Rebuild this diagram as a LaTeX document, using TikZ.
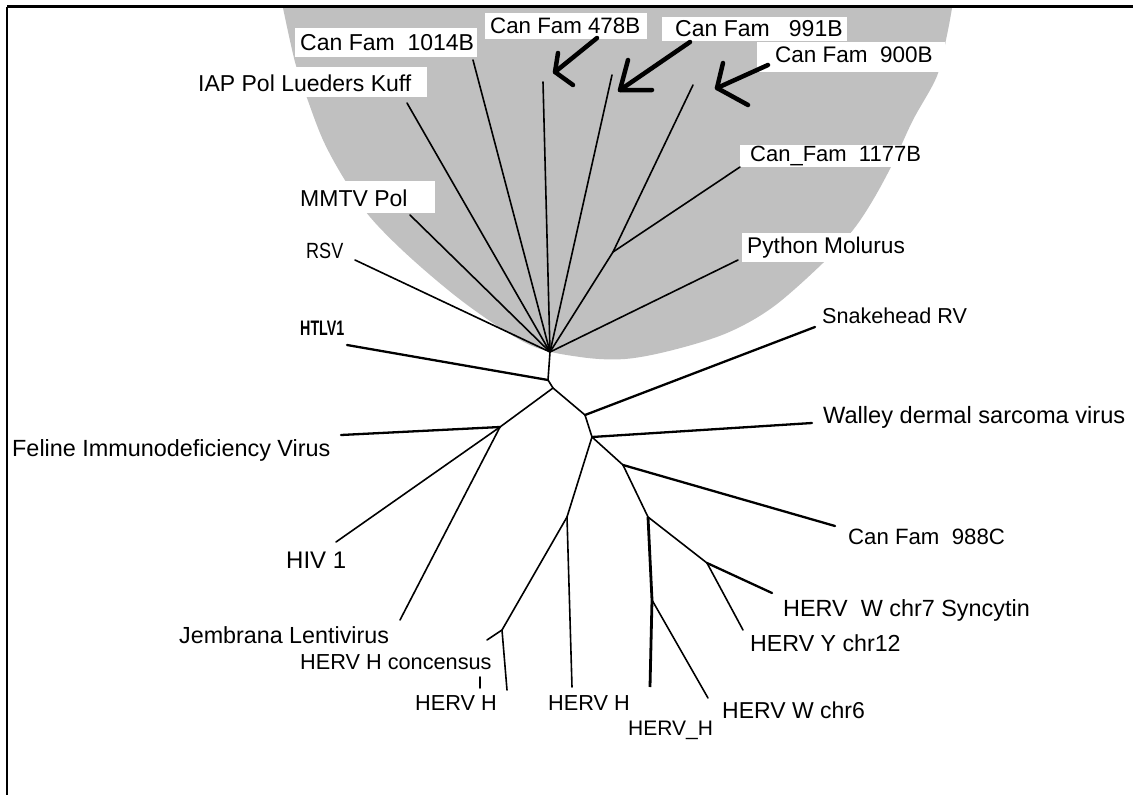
\documentclass[tikz,border=0pt]{standalone}
\usepackage{fontspec}
\setmainfont{Liberation Sans}
\definecolor{bowl}{RGB}{192,192,192}
\begin{document}
\begin{tikzpicture}[x=1pt,y=-1pt,
  br/.style={line width=1.6pt, line cap=round, line join=round},
  thk/.style={line width=2.3pt, line cap=round},
  arr/.style={line width=4.5pt, line cap=round, line join=round},
  lab/.style={inner sep=0pt, anchor=west, font=\fontsize{23}{27}\selectfont},
  labbox/.style={fill=white}]
\useasboundingbox (0,0) rectangle (1133,795);
% grey bowl
\fill[bowl] plot[smooth, tension=0.55] coordinates {(283,8) (295,62) (307,98) (323,140) (343,177) (370,217) (413,260) (470,307) (530,345) (580,357) (625,359) (673,350) (727,333) (773,307) (823,263) (853,230) (873,200) (893,163) (913,120) (937,76) (947,35) (952,8)} -- cycle;
% frame
\draw[line width=3pt] (7,6.5) -- (1133,6.5);
\draw[line width=2pt] (7,6.5) -- (7,795);
% white label boxes
\fill[labbox] (295,28) rectangle (477,57);
\fill[labbox] (485,13) rectangle (647,39);
\fill[labbox] (662,17) rectangle (847,41);
\fill[labbox] (757,42) rectangle (945,72);
\fill[labbox] (190,67) rectangle (427,97);
\fill[labbox] (295,181) rectangle (435,213);
\fill[labbox] (740,145) rectangle (925,167);
\fill[labbox] (742,233) rectangle (907,262);
% tree points
\coordinate (R1) at (550,352);
\coordinate (iap) at (407,103);
\coordinate (f1014) at (473,60);
\coordinate (f478) at (543,82);
\coordinate (f991) at (612,75);
\coordinate (K) at (613,252);
\coordinate (f900) at (693,85);
\coordinate (f1177) at (740,167);
\coordinate (python) at (738,260);
\coordinate (mmtv) at (410,215);
\coordinate (rsv) at (355,260);
\coordinate (A) at (548,380);
\coordinate (htlv) at (347,345);
\coordinate (B) at (553,388);
\coordinate (FN) at (500,427);
\coordinate (feline) at (341,435);
\coordinate (hiv) at (336,542);
\coordinate (jemb) at (400,620);
\coordinate (C) at (585,415);
\coordinate (snake) at (815,327);
\coordinate (D) at (592,437);
\coordinate (walley) at (812,423);
\coordinate (E) at (623,465);
\coordinate (c988) at (835,526);
\coordinate (H) at (648,517);
\coordinate (J) at (652,600);
\coordinate (hervH3) at (650,687);
\coordinate (chr6) at (708,698);
\coordinate (I) at (707,563);
\coordinate (chr7) at (772,593);
\coordinate (chr12) at (743,630);
\coordinate (F) at (567,517);
\coordinate (hervH2) at (572,687);
\coordinate (G) at (502,630);
\coordinate (hervH1) at (507,690);
\coordinate (cons) at (487,640);
\coordinate (tk1) at (480,677);
\coordinate (tk2) at (480,688);
% branches
\draw[br] (R1) -- (iap);
\draw[br] (R1) -- (f1014);
\draw[br] (R1) -- (f478);
\draw[br] (R1) -- (f991);
\draw[br] (R1) -- (K) -- (f900);
\draw[br] (K) -- (f1177);
\draw[br] (R1) -- (python);
\draw[br] (R1) -- (mmtv);
\draw[br] (R1) -- (rsv);
\draw[br] (R1) -- (A) -- (B);
\draw[thk] (A) -- (htlv);
\draw[br] (B) -- (FN);
\draw[thk] (FN) -- (feline);
\draw[br] (FN) -- (hiv);
\draw[br] (FN) -- (jemb);
\draw[br] (B) -- (C) -- (D);
\draw[thk] (C) -- (snake);
\draw[thk] (D) -- (walley);
\draw[br] (D) -- (E);
\draw[thk] (E) -- (c988);
\draw[br] (E) -- (H);
\draw[line width=2.8pt] (H) -- (J) -- (hervH3);
\draw[br] (J) -- (chr6);
\draw[br] (H) -- (I);
\draw[thk] (I) -- (chr7);
\draw[br] (I) -- (chr12);
\draw[br] (D) -- (F) -- (hervH2);
\draw[br] (F) -- (G) -- (hervH1);
\draw[br] (G) -- (cons);
\draw[br] (tk1) -- (tk2);
% hand-drawn arrows
\coordinate (a1s) at (597,38); \coordinate (a1t) at (555,72);
\coordinate (a1u) at (558,53); \coordinate (a1d) at (573,85);
\coordinate (a2s) at (690,42); \coordinate (a2t) at (620,90);
\coordinate (a2u) at (628,60); \coordinate (a2d) at (652,90);
\coordinate (a3s) at (768,65); \coordinate (a3t) at (717,88);
\coordinate (a3u) at (723,63); \coordinate (a3d) at (748,105);
\draw[arr] (a1s) -- (a1t); \draw[arr] (a1u) -- (a1t) -- (a1d);
\draw[arr] (a2s) -- (a2t); \draw[arr] (a2u) -- (a2t) -- (a2d);
\draw[arr] (a3s) -- (a3t); \draw[arr] (a3u) -- (a3t) -- (a3d);
% labels
\node[lab] (l1014) at (300,43) {Can Fam~~1014B};
\node[lab, font=\fontsize{22.3}{26}\selectfont] (l478) at (490,26) {Can Fam 478B};
\node[lab] (l991) at (675,29) {Can Fam~~~991B};
\node[lab, font=\fontsize{22.5}{26}\selectfont] (l900) at (775,55) {Can Fam~~900B};
\node[lab] (liap) at (198,83) {IAP Pol Lueders Kuff};
\node[lab] (lmmtv) at (300,198) {MMTV Pol};
\node[lab, font=\fontsize{22}{26}\selectfont] (lrsv) at (306,251) {\scalebox{0.82}[1]{RSV}};
\node[lab, font=\bfseries\fontsize{21}{25}\selectfont] (lhtlv) at (300,328) {\scalebox{0.68}[1]{HTLV1}};
\node[lab, font=\fontsize{22}{26}\selectfont] (l1177) at (750,156) {Can\_Fam~~1177B};
\node[lab, font=\fontsize{22.7}{26}\selectfont] (lpython) at (747,248) {Python Molurus};
\node[lab, font=\fontsize{21.6}{26}\selectfont] (lsnake) at (822,316) {Snakehead RV};
\node[lab, font=\fontsize{23.6}{27}\selectfont] (lwalley) at (823,417) {Walley dermal sarcoma virus};
\node[lab, font=\fontsize{23.4}{27}\selectfont] (lfeline) at (12,450) {Feline Immunodeficiency Virus};
\node[lab, font=\fontsize{24}{28}\selectfont] (lhiv) at (286,560) {HIV 1};
\node[lab, font=\fontsize{22.2}{26}\selectfont] (l988) at (848,537) {Can Fam~~988C};
\node[lab, font=\fontsize{23.4}{27}\selectfont] (lchr7) at (783,610) {HERV~~W chr7 Syncytin};
\node[lab, font=\fontsize{23.2}{27}\selectfont] (lchr12) at (750,643) {HERV Y chr12};
\node[lab, font=\fontsize{23.3}{27}\selectfont] (ljemb) at (179,635) {Jembrana Lentivirus};
\node[lab, font=\fontsize{21.7}{26}\selectfont] (lcons) at (300,662) {HERV H concensus};
\node[lab, font=\fontsize{21.7}{26}\selectfont] (lh1) at (415,703) {HERV H};
\node[lab, font=\fontsize{21.7}{26}\selectfont] (lh2) at (548,703) {HERV H};
\node[lab, font=\fontsize{21}{25}\selectfont] (lh3) at (628,730) {HERV\_H};
\node[lab] (lchr6) at (722,710) {HERV W chr6};
\end{tikzpicture}
\end{document}
